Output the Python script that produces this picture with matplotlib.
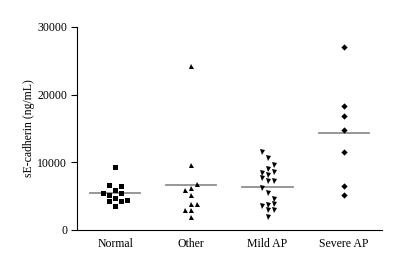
import numpy as np
import matplotlib
matplotlib.use("Agg")
import matplotlib.pyplot as plt

plt.rcParams['font.family'] = ['Liberation Serif', 'DejaVu Serif']

# --- data
groups = ["Normal", "Other", "Mild AP", "Severe AP"]

normal = [9265, 6650, 6550, 5910, 5510, 5170, 5420, 4770, 4290, 4330, 4390, 3550]
normal_col = [0, -1, 1, 0, -2, -1, 1, 0, -1, 1, 2, 0]

other = [24200, 9600, 6750, 5900, 6150, 5170, 3850, 3850, 2950, 2950, 1970]
other_col = [0, 0, 1, -1, 0, 0, 0, 1, -1, 0, 0]

mild = [11480, 10590, 9600, 9010, 8370, 8530, 8130, 7640, 7290, 7290,
        6160, 5420, 4540, 3600, 3690, 3800, 2950, 2950, 1970]
mild_col = [-1, 0, 1, 0, -1, 1, 0, -1, 1, 0, -1, 0, 1, -1, 0, 1, 0, 1, 0]

severe = [27000, 18370, 16890, 14780, 11570, 6500, 5170]
severe_col = [0, 0, 0, 0, 0, 0, 0]

medians = [5450, 6650, 6400, 14290]

yticks = [0, 10000, 20000, 30000]

# --- plot
fig = plt.figure(figsize=(4.05, 2.54), dpi=100)
ax = fig.add_axes([0.190, 0.0945, 0.753, 0.7995])

step = 0.079
series = [(normal, normal_col, 's', 3.6),
          (other, other_col, '^', 3.6),
          (mild, mild_col, 'v', 3.6),
          (severe, severe_col, 'D', 3.2)]
for i, (vals, cols, mk, ms) in enumerate(series):
    x = i + step * np.array(cols)
    ax.plot(x, vals, linestyle='none', marker=mk, markersize=ms,
            color='black', markeredgewidth=0)
    ax.plot([i - 0.33, i + 0.33], [medians[i], medians[i]],
            color='#8f8f8f', lw=1.3, zorder=1)

ax.set_xlim(-0.5, 3.5)
ax.set_ylim(0, 30000)
ax.set_xticks(range(len(groups)))
ax.set_xticklabels(groups, fontsize=8.5)
ax.tick_params(axis='x', length=0, pad=6)
ax.set_yticks(yticks)
ax.set_yticklabels([str(t) for t in yticks], fontsize=8.5)
ax.tick_params(axis='y', length=4, width=0.8, pad=3)
ax.set_ylabel("sE-cadherin (ng/mL)", fontsize=8.5, labelpad=2)

for s in ['top', 'right']:
    ax.spines[s].set_visible(False)
for s in ['left', 'bottom']:
    ax.spines[s].set_linewidth(0.8)

fig.savefig("out.png", dpi=100)
